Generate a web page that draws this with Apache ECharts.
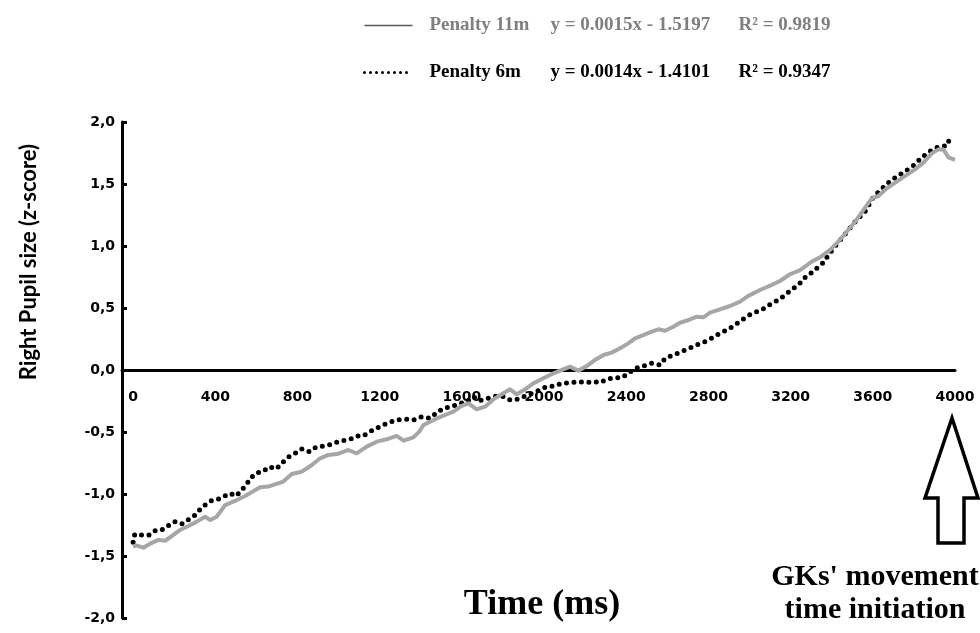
<!DOCTYPE html>
<html>
<head>
<meta charset="utf-8">
<script src="https://cdn.jsdelivr.net/npm/echarts@6/dist/echarts.min.js"></script>
<style>html,body{margin:0;padding:0;background:#fff}#c{width:980px;height:633px}</style>
</head>
<body>
<div id="c"></div>
<script>
// Penalty 11m (grey solid line)
const time11 = [0,15,50,83,123,156,196,229,269,310,350,375,407,448,496,545,618,658,731,772,821,870,910,950,1000,1048,1088,1137,1186,1234,1283,1316,1364,1393,1413,1445,1478,1518,1559,1599,1632,1672,1713,1753,1802,1835,1867,1908,1948,1989,2029,2078,2126,2167,2208,2248,2289,2329,2370,2410,2443,2483,2524,2556,2589,2629,2662,2702,2743,2775,2808,2856,2905,2954,2994,3051,3100,3148,3197,3246,3303,3343,3392,3432,3473,3514,3554,3595,3627,3668,3716,3765,3805,3846,3887,3919,3944,3968,4000];
const pupil11 = [-1.425,-1.415,-1.433,-1.40,-1.37,-1.377,-1.33,-1.29,-1.258,-1.223,-1.183,-1.21,-1.183,-1.089,-1.056,-1.016,-0.946,-0.94,-0.90,-0.839,-0.82,-0.766,-0.712,-0.685,-0.675,-0.645,-0.672,-0.618,-0.578,-0.559,-0.532,-0.57,-0.543,-0.497,-0.444,-0.417,-0.39,-0.363,-0.336,-0.29,-0.269,-0.317,-0.296,-0.237,-0.188,-0.156,-0.196,-0.156,-0.108,-0.072,-0.04,-0.005,0.027,-0.005,0.032,0.081,0.121,0.14,0.175,0.215,0.255,0.282,0.309,0.328,0.317,0.349,0.381,0.403,0.43,0.425,0.462,0.489,0.516,0.551,0.598,0.645,0.68,0.718,0.772,0.806,0.874,0.909,0.968,1.035,1.115,1.196,1.29,1.384,1.403,1.465,1.519,1.573,1.618,1.672,1.747,1.779,1.779,1.715,1.694];

// Penalty 6m (black dotted line)
const time6 = [0,8,42,79,112,148,180,204,237,297,326,350,378,407,440,472,501,529,553,574,602,631,663,696,727,753,788,821,858,894,931,970,1004,1056,1088,1121,1153,1194,1234,1283,1332,1364,1405,1445,1478,1510,1551,1591,1624,1656,1686,1729,1770,1802,1835,1867,1899,1940,1981,2013,2053,2086,2126,2167,2208,2240,2272,2305,2345,2378,2410,2443,2483,2524,2564,2589,2629,2670,2707,2743,2783,2821,2856,2897,2929,2962,3002,3035,3071,3108,3140,3173,3205,3238,3265,3298,3327,3359,3384,3408,3441,3481,3522,3562,3603,3635,3668,3697,3729,3762,3795,3822,3854,3887,3914,3940,3959,3975];
const pupil6 = [-1.39,-1.325,-1.33,-1.33,-1.29,-1.285,-1.245,-1.223,-1.242,-1.177,-1.124,-1.089,-1.056,-1.048,-1.022,-0.995,-1.016,-0.968,-0.919,-0.868,-0.828,-0.82,-0.78,-0.798,-0.747,-0.704,-0.672,-0.637,-0.659,-0.618,-0.613,-0.597,-0.574,-0.559,-0.532,-0.532,-0.497,-0.462,-0.43,-0.403,-0.398,-0.403,-0.376,-0.39,-0.344,-0.309,-0.296,-0.269,-0.255,-0.215,-0.247,-0.228,-0.21,-0.215,-0.242,-0.237,-0.215,-0.19,-0.161,-0.134,-0.129,-0.108,-0.102,-0.094,-0.102,-0.094,-0.102,-0.075,-0.062,-0.062,-0.027,0.013,0.032,0.054,0.04,0.094,0.121,0.148,0.175,0.202,0.228,0.261,0.296,0.328,0.363,0.403,0.446,0.47,0.497,0.538,0.565,0.605,0.651,0.685,0.739,0.78,0.82,0.866,0.927,0.981,1.048,1.129,1.21,1.277,1.398,1.446,1.5,1.538,1.573,1.607,1.645,1.688,1.734,1.774,1.796,1.806,1.806,1.868];

// Labels / texts
const seriesNames = ['Penalty 11m', 'Penalty 6m'];
const equations = ['y = 0.0015x - 1.5197', 'y = 0.0014x - 1.4101'];
const r2Texts = ['R² = 0.9819', 'R² = 0.9347'];
const xTickValues = [0,400,800,1200,1600,2000,2400,2800,3200,3600,4000];
const xTitle = 'Time (ms)';
const yTitle = 'Right Pupil size (z-score)';
const noteText = "GKs' movement\ntime initiation";

const chart = echarts.init(document.getElementById('c'), null, {renderer:'canvas'});
const pairs = (xs, ys) => xs.map((x, i) => [x, ys[i]]);
const legendFont = {fontFamily: 'Liberation Serif', fontWeight: 'bold', fontSize: 19};

const GRID_TOP = 122, GRID_BOTTOM = 15, CHART_H = 633;
const Y_MIN = -2, Y_MAX = 2;
// move the x axis (line + labels) up to the y = 0 level
const zeroOffset = -((CHART_H - GRID_BOTTOM - GRID_TOP) * (0 - Y_MIN) / (Y_MAX - Y_MIN));

const option = {
  animation: false,
  backgroundColor: '#fff',
  grid: {left: 122, right: 25, top: GRID_TOP, bottom: GRID_BOTTOM, containLabel: false, outerBoundsMode: 'none'},
  legend: {
    orient: 'vertical', left: 363, top: 16, padding: 0,
    itemWidth: 48, itemHeight: 20, itemGap: 28,
    selectedMode: false,
    data: [
      {name: seriesNames[0], itemStyle: {opacity: 0}, lineStyle: {color: '#595959', width: 1.5, type: 'solid'}, textStyle: {color: '#7f7f7f'}},
      {name: seriesNames[1], itemStyle: {opacity: 0}, lineStyle: {color: '#000', width: 3, type: [0, 6], cap: 'round'}, textStyle: {color: '#000'}}
    ],
    formatter: function (name) {
      const i = seriesNames.indexOf(name);
      return '{s|}{n|' + name + '}{e|' + equations[i] + '}{r|' + r2Texts[i] + '}';
    },
    textStyle: Object.assign({
      rich: {
        s: {width: 12},
        n: Object.assign({width: 121}, legendFont),
        e: Object.assign({width: 188}, legendFont),
        r: Object.assign({}, legendFont)
      }
    }, legendFont)
  },
  xAxis: {
    type: 'value', min: -54, max: 4000, position: 'bottom', offset: zeroOffset,
    axisLine: {onZero: false, lineStyle: {color: '#000', width: 3}},
    axisTick: {show: false},
    splitLine: {show: false},
    axisLabel: {customValues: xTickValues, margin: 20, fontFamily: 'DejaVu Sans', fontWeight: 'bold', fontSize: 14, color: '#000',
      formatter: function (v) { return '' + v; }}
  },
  yAxis: {
    type: 'value', min: Y_MIN, max: Y_MAX, interval: 0.5,
    axisLine: {show: true, onZero: false, lineStyle: {color: '#000', width: 3}},
    axisTick: {show: true, inside: true, length: 5, lineStyle: {color: '#000', width: 3}},
    splitLine: {show: false},
    axisLabel: {margin: 7, fontFamily: 'DejaVu Sans', fontWeight: 'bold', fontSize: 14, color: '#000',
      formatter: function (v) { return v.toFixed(1).replace('.', ','); }}
  },
  series: [
    {
      name: seriesNames[1], type: 'line', data: pairs(time6, pupil6),
      symbol: 'none', z: 3,
      itemStyle: {color: '#000'},
      lineStyle: {color: '#000', width: 5, type: [0, 7.5], cap: 'round'}
    },
    {
      name: seriesNames[0], type: 'line', data: pairs(time11, pupil11),
      symbol: 'none', z: 4,
      itemStyle: {color: '#a6a6a6'},
      lineStyle: {color: '#a6a6a6', width: 4, join: 'round'}
    }
  ],
  graphic: [
    {
      type: 'text', z: 10, x: 29, y: 262, rotation: Math.PI / 2,
      style: {
        x: 0, y: 0, text: yTitle, textAlign: 'center', textVerticalAlign: 'middle',
        font: 'bold 22px Lato', fill: '#000'
      }
    },
    {
      type: 'text', z: 10,
      style: {
        x: 542, y: 605, text: xTitle, textAlign: 'center', textVerticalAlign: 'middle',
        font: 'bold 36px "Liberation Serif"', fill: '#000'
      }
    },
    {
      type: 'polygon', z: 10,
      shape: {points: [[952, 418], [978, 498], [964, 498], [964, 543], [938, 543], [938, 498], [925, 498]]},
      style: {fill: '#fff', stroke: '#000', lineWidth: 3.5, lineJoin: 'miter'}
    },
    {
      type: 'text', z: 10,
      style: {
        x: 875, y: 594, text: noteText, textAlign: 'center', textVerticalAlign: 'middle',
        font: 'bold 30px "Liberation Serif"', fill: '#000', lineHeight: 33
      }
    }
  ]
};
chart.setOption(option);
</script>
</body>
</html>
